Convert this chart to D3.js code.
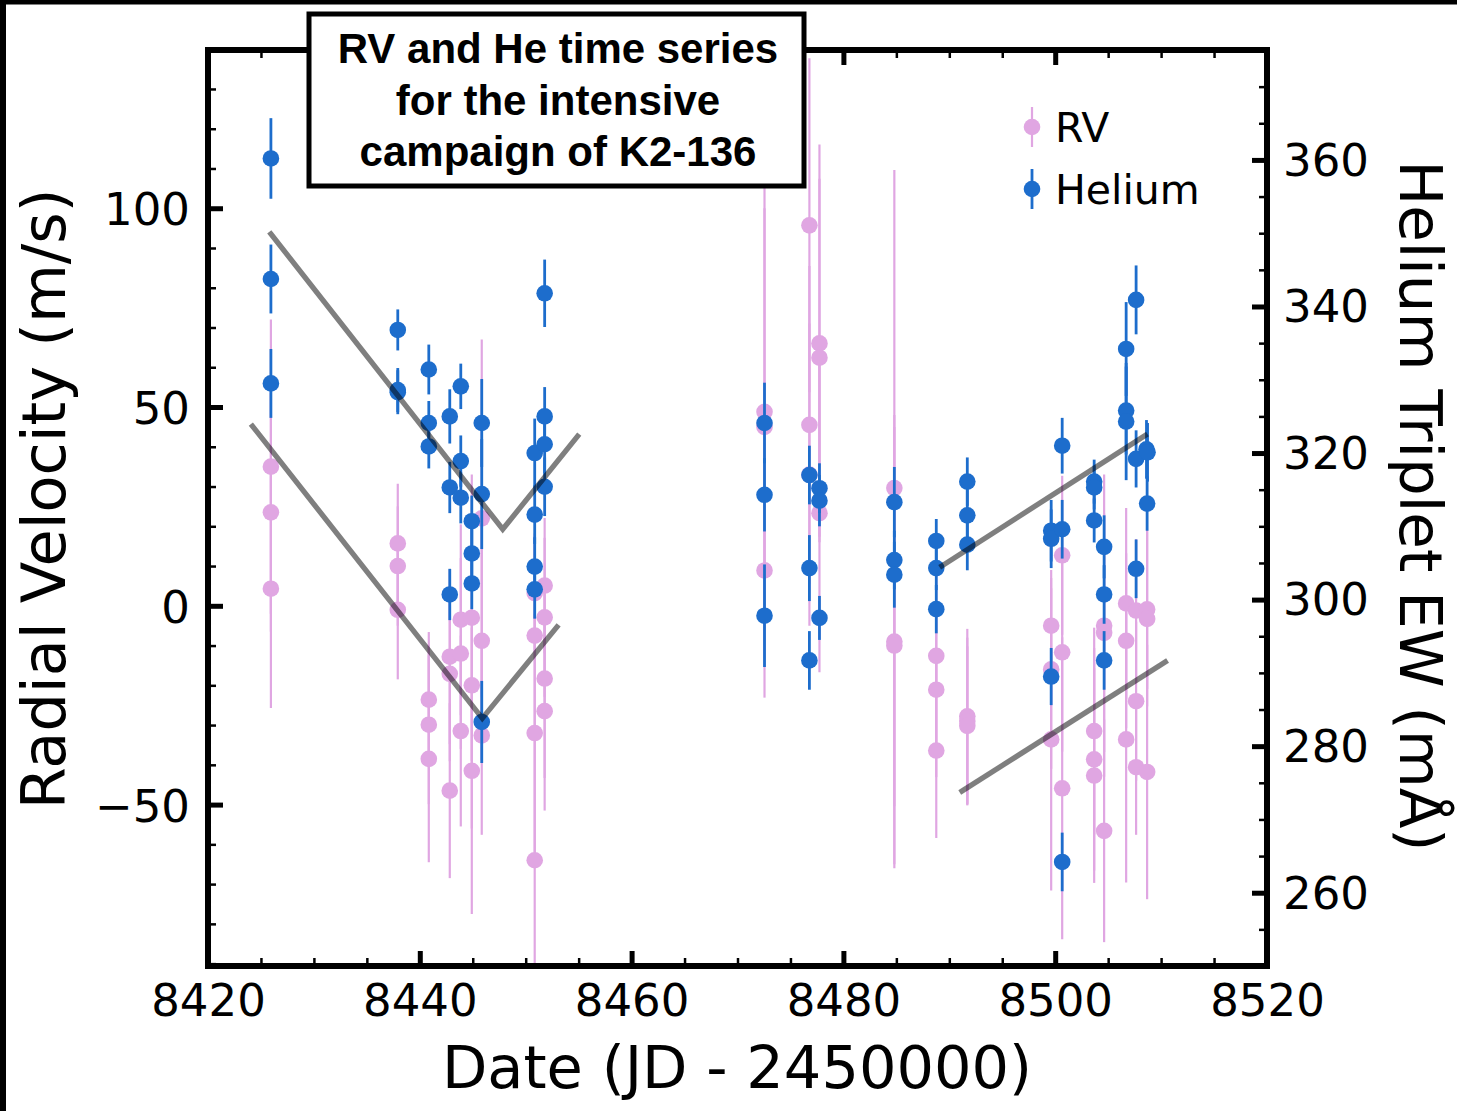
<!DOCTYPE html>
<html>
<head>
<meta charset="utf-8">
<script src="https://cdn.jsdelivr.net/npm/d3@7"></script>
<style>
  html, body { margin: 0; padding: 0; background: #fff; }
  svg { display: block; }
</style>
</head>
<body>
<div id="chart"></div>
<script>
// ---------------- DATA ----------------
// RV series (m/s): date (JD - 2450000), value, error
const rvDates = [
  8425.94, 8425.94, 8425.94,
  8437.92, 8437.92, 8437.92,
  8440.85, 8440.85, 8440.85,
  8442.83, 8442.83, 8442.83,
  8443.87, 8443.87, 8443.87,
  8444.91, 8444.91, 8444.91,
  8445.85, 8445.85, 8445.85,
  8450.85, 8450.85, 8450.85, 8450.85,
  8451.79, 8451.79, 8451.79, 8451.79,
  8472.55, 8472.55, 8472.55,
  8476.79, 8476.79, 8476.79,
  8477.74, 8477.74, 8477.74,
  8484.81, 8484.81, 8484.81,
  8488.77, 8488.77, 8488.77,
  8491.70, 8491.70, 8491.70,
  8499.62, 8499.62, 8499.62,
  8500.66, 8500.66, 8500.66,
  8503.68, 8503.68, 8503.68,
  8504.62, 8504.62, 8504.62,
  8506.70, 8506.70, 8506.70,
  8507.64, 8507.64, 8507.64,
  8508.68, 8508.68, 8508.68
];
const rvValues = [
  35, 23.5, 4.3,
  15.7, 10, -1,
  -23.6, -29.9, -38.5,
  -12.8, -17.1, -46.5,
  -3.5, -12, -31.5,
  -3, -20, -41.5,
  22, -8.8, -32.6,
  3.2, -7.5, -32, -64,
  5.1, -2.9, -18.3, -26.5,
  48.8, 45, 8.9,
  95.7, 45.5, 33,
  66, 62.4, 23.3,
  29.6, -9, -10,
  -12.6, -21.1, -36.4,
  -27.8, -29, -30.2,
  -5, -16, -33.6,
  12.7, -11.7, -45.9,
  -31.5, -38.6, -42.7,
  -5, -6.8, -56.6,
  0.6, -8.8, -33.6,
  -1.2, -24, -40.6,
  -0.9, -3.3, -41.8
];
const rvErrors = [
  37, 30, 30,
  15, 15, 17.5,
  17, 20, 26,
  22, 22, 22,
  24, 24, 24,
  36, 36, 36,
  45, 30, 25,
  15, 25, 30, 30,
  17, 20, 25, 25,
  62, 55, 32,
  42, 40, 38,
  50, 45, 40,
  80, 57, 55,
  22, 22, 22,
  22, 21, 20,
  12, 25, 38,
  20, 25, 38,
  26, 28, 27,
  38, 30, 28,
  24, 22, 36,
  18, 20, 17,
  20, 22, 32
];

// Helium triplet EW (mÅ): date, value, error
const heDates = [
  8425.94, 8425.94, 8425.94,
  8437.92, 8437.92, 8437.92,
  8440.85, 8440.85, 8440.85,
  8442.83, 8442.83, 8442.83,
  8443.87, 8443.87, 8443.87,
  8444.91, 8444.91, 8444.91,
  8445.85, 8445.85, 8445.85,
  8450.85, 8450.85, 8450.85, 8450.85,
  8451.79, 8451.79, 8451.79, 8451.79,
  8472.55, 8472.55, 8472.55,
  8476.79, 8476.79, 8476.79,
  8477.74, 8477.74, 8477.74,
  8484.81, 8484.81, 8484.81,
  8488.77, 8488.77, 8488.77,
  8491.70, 8491.70, 8491.70,
  8499.62, 8499.62, 8499.62,
  8500.66, 8500.66, 8500.66,
  8503.68, 8503.68, 8503.68,
  8504.62, 8504.62, 8504.62,
  8506.70, 8506.70, 8506.70,
  8507.64, 8507.64, 8507.64,
  8508.62, 8508.72, 8508.68
];
const heValues = [
  360.2, 343.75, 329.5,
  336.8, 328.6, 328.3,
  331.4, 324.1, 320.9,
  325, 315.3, 300.7,
  329.1, 318.9, 313.9,
  310.7, 306.3, 302.2,
  324.1, 314.4, 283.3,
  320, 311.6, 304.5, 301.4,
  341.8, 325, 321.2, 315.4,
  324.1, 314.3, 297.8,
  317, 304.3, 291.7,
  315.2, 313.5, 297.5,
  313.3, 305.4, 303.4,
  308, 304.3, 298.7,
  316.1, 311.5, 307.5,
  309.4, 308.3, 289.5,
  321, 309.6, 264.2,
  316.1, 315.3, 310.8,
  307.2, 300.7, 291.7,
  334.2, 325.8, 324.3,
  340.9, 319.2, 304.2,
  320.5, 320.1, 313.1
];
const heErrors = [
  5.5, 4.7, 4.7,
  2.8, 3, 3,
  3.4, 3, 3,
  3.7, 3.5, 3.5,
  3.1, 3.5, 3.5,
  3.5, 3.5, 3.5,
  6, 7.5, 5.6,
  4.7, 4, 4, 4,
  4.6, 4, 4, 4,
  5.5, 5, 7,
  4, 4.5, 4,
  3.4, 3.5, 3,
  4.8, 4, 4.5,
  3, 3, 3.3,
  3.3, 3.5, 3.5,
  4.2, 4, 3.9,
  3.8, 4, 4,
  3, 3, 3,
  4.3, 4, 4,
  6.4, 6, 8,
  4.7, 3.9, 4,
  4, 4, 3.7
];

// Trend lines (grey): V-shapes on the first campaign part, slopes on the last
const heTrendADates = [8425.94, 8447.83, 8454.9];
const heTrendAValues = [349.9, 309.6, 322.3];
const rvTrendADates = [8424.2, 8445.9, 8452.95];
const rvTrendAValues = [45.2, -28.3, -5.3];
const heTrendBDates = [8489.3, 8508.5];
const heTrendBValues = [304.6, 322.4];
const rvTrendBDates = [8491.2, 8510.4];
const rvTrendBValues = [-46.6, -14.1];

// Ticks
const xMajorTicks = [8420, 8440, 8460, 8480, 8500, 8520];
const rvMajorTicks = [-50, 0, 50, 100];
const heMajorTicks = [260, 280, 300, 320, 340, 360];

const titleLines = ["RV and He time series", "for the intensive", "campaign of K2-136"];
const legendLabels = ["RV", "Helium"];

// ---------------- DRAWING ----------------
const W = 1457, H = 1111;
const plot = { left: 208, right: 1267, top: 50, bottom: 966 };
const pink = "#e0a6e2";
const blue = "#1d6dcc";
const axisFont = "'DejaVu Sans', 'Noto Sans', sans-serif";

const svg = d3.select("#chart").append("svg")
  .attr("width", W).attr("height", H)
  .attr("viewBox", `0 0 ${W} ${H}`);

svg.append("rect").attr("width", W).attr("height", H).attr("fill", "#fff");

// Outer frame (top and left edges)
svg.append("line").attr("x1", 0).attr("x2", W).attr("y1", 2).attr("y2", 2)
  .attr("stroke", "#000").attr("stroke-width", 5);
svg.append("line").attr("x1", 3).attr("x2", 3).attr("y1", 0).attr("y2", H)
  .attr("stroke", "#000").attr("stroke-width", 6);

const x = d3.scaleLinear().domain([8420, 8520]).range([plot.left, plot.right]);
const yRV = d3.scaleLinear().domain([-90.6, 139.8]).range([plot.bottom, plot.top]);
const yHe = d3.scaleLinear().domain([250, 375]).range([plot.bottom, plot.top]);

svg.append("clipPath").attr("id", "plotclip")
  .append("rect")
  .attr("x", plot.left).attr("y", plot.top)
  .attr("width", plot.right - plot.left).attr("height", plot.bottom - plot.top);

const rv = rvDates.map((d, i) => ({ x: d, y: rvValues[i], e: rvErrors[i] }));
const he = heDates.map((d, i) => ({ x: d, y: heValues[i], e: heErrors[i] }));

const gData = svg.append("g").attr("clip-path", "url(#plotclip)");

function drawSeries(arr, yScale, color, ew) {
  const g = gData.append("g");
  g.selectAll("line.err").data(arr).enter().append("line")
    .attr("class", "err")
    .attr("x1", d => x(d.x)).attr("x2", d => x(d.x))
    .attr("y1", d => yScale(d.y - d.e)).attr("y2", d => yScale(d.y + d.e))
    .attr("stroke", color).attr("stroke-width", ew);
  g.selectAll("circle").data(arr).enter().append("circle")
    .attr("cx", d => x(d.x)).attr("cy", d => yScale(d.y))
    .attr("r", 8.3).attr("fill", color);
}
drawSeries(rv, yRV, pink, 2.2);
drawSeries(he, yHe, blue, 2.8);

// Trend lines
function trend(dates, vals, yScale) {
  const pts = dates.map((d, i) => [x(d), yScale(vals[i])]);
  gData.append("path")
    .attr("d", d3.line()(pts))
    .attr("fill", "none")
    .attr("stroke", "rgba(0,0,0,0.5)")
    .attr("stroke-width", 5.3)
    .attr("stroke-linecap", "square")
    .attr("stroke-linejoin", "miter");
}
trend(heTrendADates, heTrendAValues, yHe);
trend(rvTrendADates, rvTrendAValues, yRV);
trend(heTrendBDates, heTrendBValues, yHe);
trend(rvTrendBDates, rvTrendBValues, yRV);

// ---------------- AXES ----------------
const xMinor = d3.range(8420, 8521, 5).filter(v => v % 20 !== 0);
const rvMinor = d3.range(-90, 140, 10).filter(v => v % 50 !== 0);
const heMinor = d3.range(250, 376, 5).filter(v => v % 20 !== 0);

function styleAxis(g, major) {
  g.select(".domain").remove();
  g.selectAll(".tick line").attr("stroke", "#000").attr("stroke-width", major ? 5 : 2.5);
  g.selectAll(".tick text")
    .attr("fill", "#000")
    .style("font-family", axisFont)
    .style("font-size", "45px");
}

// bottom
const gxb = svg.append("g").attr("transform", `translate(0,${plot.bottom})`)
  .call(d3.axisBottom(x).tickValues(xMajorTicks).tickSize(-15).tickPadding(18).tickFormat(d3.format("d")));
styleAxis(gxb, true);
const gxbm = svg.append("g").attr("transform", `translate(0,${plot.bottom})`)
  .call(d3.axisBottom(x).tickValues(xMinor).tickSize(-8).tickFormat(""));
styleAxis(gxbm, false);
// top
const gxt = svg.append("g").attr("transform", `translate(0,${plot.top})`)
  .call(d3.axisTop(x).tickValues(xMajorTicks).tickSize(-15).tickFormat(""));
styleAxis(gxt, true);
const gxtm = svg.append("g").attr("transform", `translate(0,${plot.top})`)
  .call(d3.axisTop(x).tickValues(xMinor).tickSize(-8).tickFormat(""));
styleAxis(gxtm, false);
// left
const fmtMinus = d => (d < 0 ? "\u2212" + Math.abs(d) : String(d));
const gyl = svg.append("g").attr("transform", `translate(${plot.left},0)`)
  .call(d3.axisLeft(yRV).tickValues(rvMajorTicks).tickSize(-15).tickPadding(18).tickFormat(fmtMinus));
styleAxis(gyl, true);
gyl.selectAll(".tick text").attr("dy", "0.37em");
const gylm = svg.append("g").attr("transform", `translate(${plot.left},0)`)
  .call(d3.axisLeft(yRV).tickValues(rvMinor).tickSize(-8).tickFormat(""));
styleAxis(gylm, false);
// right
const gyr = svg.append("g").attr("transform", `translate(${plot.right},0)`)
  .call(d3.axisRight(yHe).tickValues(heMajorTicks).tickSize(-15).tickPadding(16).tickFormat(d3.format("d")));
styleAxis(gyr, true);
gyr.selectAll(".tick text").attr("dy", "0.34em");
const gyrm = svg.append("g").attr("transform", `translate(${plot.right},0)`)
  .call(d3.axisRight(yHe).tickValues(heMinor).tickSize(-8).tickFormat(""));
styleAxis(gyrm, false);

// spines
svg.append("rect")
  .attr("x", plot.left).attr("y", plot.top)
  .attr("width", plot.right - plot.left).attr("height", plot.bottom - plot.top)
  .attr("fill", "none").attr("stroke", "#000").attr("stroke-width", 6);

// Axis labels
svg.append("text")
  .attr("transform", `translate(65,499) rotate(-90)`)
  .attr("text-anchor", "middle")
  .style("font-family", axisFont).style("font-size", "60.5px")
  .text("Radial Velocity (m/s)");
svg.append("text")
  .attr("transform", `translate(1400,506) rotate(90)`)
  .attr("text-anchor", "middle")
  .style("font-family", axisFont).style("font-size", "59.5px")
  .text("Helium Triplet EW (mÅ)");
svg.append("text")
  .attr("x", 737).attr("y", 1088)
  .attr("text-anchor", "middle")
  .style("font-family", axisFont).style("font-size", "59px")
  .text("Date (JD - 2450000)");

// Legend
const legend = svg.append("g");
const legItems = [
  { label: legendLabels[0], color: pink, cy: 127, ew: 2.2 },
  { label: legendLabels[1], color: blue, cy: 189, ew: 2.8 }
];
legItems.forEach(it => {
  legend.append("line").attr("x1", 1032).attr("x2", 1032)
    .attr("y1", it.cy - 20).attr("y2", it.cy + 20)
    .attr("stroke", it.color).attr("stroke-width", it.ew);
  legend.append("circle").attr("cx", 1032).attr("cy", it.cy).attr("r", 8.3).attr("fill", it.color);
  legend.append("text").attr("x", 1055).attr("y", it.cy + 14.5)
    .style("font-family", axisFont).style("font-size", "41px")
    .text(it.label);
});

// Title box
const tb = svg.append("g");
tb.append("rect")
  .attr("x", 309).attr("y", 14).attr("width", 495).attr("height", 172)
  .attr("fill", "#fff").attr("stroke", "#000").attr("stroke-width", 5);
titleLines.forEach((t, i) => {
  tb.append("text")
    .attr("x", 558).attr("y", 63 + i * 51.7)
    .attr("text-anchor", "middle")
    .style("font-family", "'Liberation Sans', Arial, sans-serif")
    .style("font-weight", "bold").style("font-size", "42px")
    .text(t);
});
</script>
</body>
</html>
